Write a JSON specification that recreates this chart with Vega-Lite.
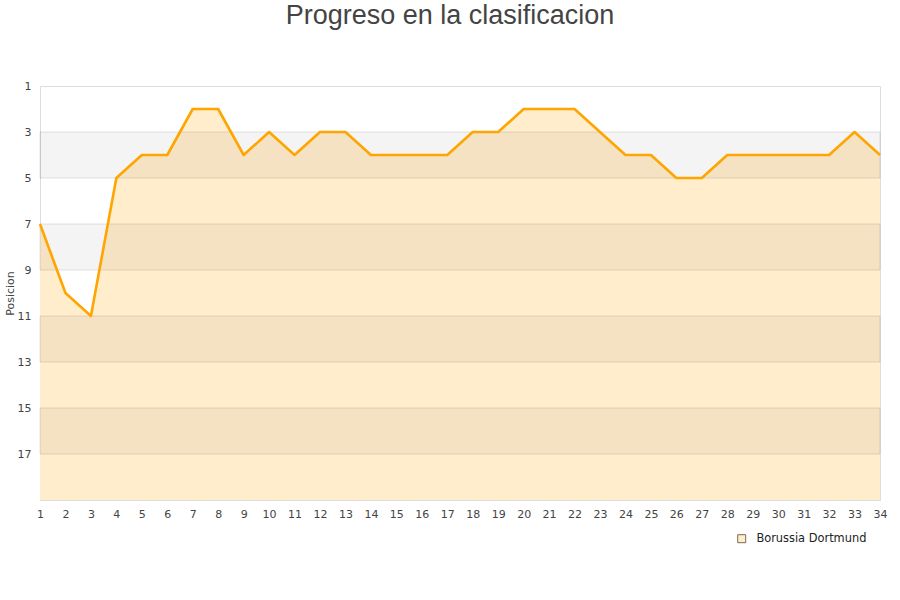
{
  "$schema": "https://vega.github.io/schema/vega-lite/v6.json",
  "autosize": "none",
  "width": 840,
  "height": 414,
  "padding": {"left": 40, "top": 86, "right": 20, "bottom": 100},
  "background": "white",
  "title": {
    "text": "Progreso en la clasificacion",
    "font": "Liberation Sans",
    "fontSize": 27,
    "fontWeight": "normal",
    "color": "#444444",
    "anchor": "middle",
    "dx": -10,
    "offset": 50
  },
  "config": {
    "view": {"stroke": "#dddddd"},
    "axis": {
      "labelFont": "DejaVu Sans",
      "labelFontSize": 11,
      "labelColor": "#444444",
      "titleFont": "DejaVu Sans",
      "titleFontSize": 11,
      "titleFontWeight": "normal",
      "titleColor": "#444444",
      "ticks": false,
      "domain": false,
      "labelOverlap": false
    },
    "legend": {
      "labelFont": "DejaVu Sans",
      "labelFontSize": 11.4,
      "labelColor": "#222222"
    }
  },
  "datasets": {
    "bandas": [
      {"desde": 3, "hasta": 5},
      {"desde": 7, "hasta": 9},
      {"desde": 11, "hasta": 13},
      {"desde": 15, "hasta": 17}
    ],
    "posiciones": [
      {"jornada": 1, "posicion": 7, "equipo": "Borussia Dortmund"},
      {"jornada": 2, "posicion": 10, "equipo": "Borussia Dortmund"},
      {"jornada": 3, "posicion": 11, "equipo": "Borussia Dortmund"},
      {"jornada": 4, "posicion": 5, "equipo": "Borussia Dortmund"},
      {"jornada": 5, "posicion": 4, "equipo": "Borussia Dortmund"},
      {"jornada": 6, "posicion": 4, "equipo": "Borussia Dortmund"},
      {"jornada": 7, "posicion": 2, "equipo": "Borussia Dortmund"},
      {"jornada": 8, "posicion": 2, "equipo": "Borussia Dortmund"},
      {"jornada": 9, "posicion": 4, "equipo": "Borussia Dortmund"},
      {"jornada": 10, "posicion": 3, "equipo": "Borussia Dortmund"},
      {"jornada": 11, "posicion": 4, "equipo": "Borussia Dortmund"},
      {"jornada": 12, "posicion": 3, "equipo": "Borussia Dortmund"},
      {"jornada": 13, "posicion": 3, "equipo": "Borussia Dortmund"},
      {"jornada": 14, "posicion": 4, "equipo": "Borussia Dortmund"},
      {"jornada": 15, "posicion": 4, "equipo": "Borussia Dortmund"},
      {"jornada": 16, "posicion": 4, "equipo": "Borussia Dortmund"},
      {"jornada": 17, "posicion": 4, "equipo": "Borussia Dortmund"},
      {"jornada": 18, "posicion": 3, "equipo": "Borussia Dortmund"},
      {"jornada": 19, "posicion": 3, "equipo": "Borussia Dortmund"},
      {"jornada": 20, "posicion": 2, "equipo": "Borussia Dortmund"},
      {"jornada": 21, "posicion": 2, "equipo": "Borussia Dortmund"},
      {"jornada": 22, "posicion": 2, "equipo": "Borussia Dortmund"},
      {"jornada": 23, "posicion": 3, "equipo": "Borussia Dortmund"},
      {"jornada": 24, "posicion": 4, "equipo": "Borussia Dortmund"},
      {"jornada": 25, "posicion": 4, "equipo": "Borussia Dortmund"},
      {"jornada": 26, "posicion": 5, "equipo": "Borussia Dortmund"},
      {"jornada": 27, "posicion": 5, "equipo": "Borussia Dortmund"},
      {"jornada": 28, "posicion": 4, "equipo": "Borussia Dortmund"},
      {"jornada": 29, "posicion": 4, "equipo": "Borussia Dortmund"},
      {"jornada": 30, "posicion": 4, "equipo": "Borussia Dortmund"},
      {"jornada": 31, "posicion": 4, "equipo": "Borussia Dortmund"},
      {"jornada": 32, "posicion": 4, "equipo": "Borussia Dortmund"},
      {"jornada": 33, "posicion": 3, "equipo": "Borussia Dortmund"},
      {"jornada": 34, "posicion": 4, "equipo": "Borussia Dortmund"}
    ]
  },
  "layer": [
    {
      "data": {"name": "posiciones"},
      "mark": {"type": "area", "interpolate": "linear"},
      "encoding": {
        "x": {
          "field": "jornada",
          "type": "quantitative",
          "scale": {"domain": [1, 34], "nice": false, "zero": false},
          "axis": {
            "title": null,
            "values": [1,2,3,4,5,6,7,8,9,10,11,12,13,14,15,16,17,18,19,20,21,22,23,24,25,26,27,28,29,30,31,32,33,34],
            "grid": false,
            "labelPadding": 8,
            "labelFlush": false,
            "labelOverlap": false,
            "labelSeparation": 0
          }
        },
        "y": {
          "field": "posicion",
          "type": "quantitative",
          "scale": {"domain": [1, 19], "reverse": true, "nice": false, "zero": false},
          "axis": {
            "title": "Posicion",
            "values": [1, 3, 5, 7, 9, 11, 13, 15, 17],
            "grid": false,
            "labelPadding": 9,
            "titlePadding": 2
          }
        },
        "y2": {"datum": 19},
        "fill": {
          "field": "equipo",
          "type": "nominal",
          "scale": {"range": ["#ffedcc"]},
          "legend": {
            "title": null,
            "orient": "none",
            "legendX": 696,
            "legendY": 447,
            "symbolType": "square",
            "symbolSize": 64,
            "labelOffset": 9,
            "symbolStrokeColor": "#7a6a55",
            "symbolStrokeWidth": 1
          }
        }
      }
    },
    {
      "data": {"name": "bandas"},
      "mark": {"type": "rect", "fill": "#000000", "fillOpacity": 0.045, "stroke": "#000000", "strokeOpacity": 0.1, "strokeWidth": 1},
      "encoding": {
        "y": {"field": "desde", "type": "quantitative"},
        "y2": {"field": "hasta"}
      }
    },
    {
      "data": {"name": "posiciones"},
      "mark": {"type": "line", "color": "#ffa500", "strokeWidth": 2.6, "strokeJoin": "round"},
      "encoding": {
        "x": {
          "field": "jornada",
          "type": "quantitative",
          "axis": {
            "title": null,
            "values": [1,2,3,4,5,6,7,8,9,10,11,12,13,14,15,16,17,18,19,20,21,22,23,24,25,26,27,28,29,30,31,32,33,34],
            "grid": false,
            "labelPadding": 8,
            "labelFlush": false,
            "labelOverlap": false,
            "labelSeparation": 0
          }
        },
        "y": {"field": "posicion", "type": "quantitative"}
      }
    }
  ]
}
